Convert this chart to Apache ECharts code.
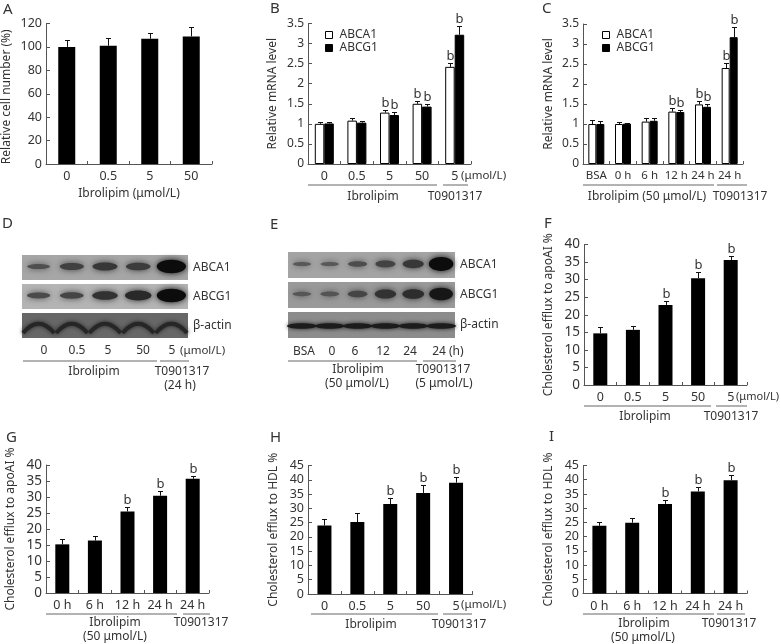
<!DOCTYPE html>
<html>
<head>
<meta charset="utf-8">
<style>
html, body { margin: 0; padding: 0; background: #fff; }
#main { width: 781px; height: 644px; }
</style>
<script src="https://cdn.jsdelivr.net/npm/echarts@6/dist/echarts.min.js"></script>
</head>
<body>
<div id="main"></div>
<script>
// categories
const catDose = ['0', '0.5', '5', '50'];
const catDoseT = ['0', '0.5', '5', '50', '5'];
const catTimeC = ['BSA', '0 h', '6 h', '12 h', '24 h', '24 h'];
const catTimeG = ['0 h', '6 h', '12 h', '24 h', '24 h'];

// A
const cellNumber = [100, 101, 107, 109];
const cellNumberTop = [105.5, 108, 111.5, 117];
// B
const bAbca1 = [1.0, 1.08, 1.28, 1.5, 2.42];
const bAbca1Top = [1.05, 1.15, 1.34, 1.56, 2.52];
const bAbca1Sig = ['', '', 'b', 'b', 'b'];
const bAbcg1 = [1.01, 1.03, 1.22, 1.43, 3.22];
const bAbcg1Top = [1.04, 1.06, 1.29, 1.49, 3.45];
const bAbcg1Sig = ['', '', 'b', 'b', 'b'];
// C
const cAbca1 = [1.0, 1.0, 1.06, 1.31, 1.49, 2.4];
const cAbca1Top = [1.09, 1.04, 1.14, 1.39, 1.58, 2.52];
const cAbca1Sig = ['', '', '', 'b', 'b', 'b'];
const cAbcg1 = [1.0, 1.01, 1.08, 1.3, 1.43, 3.17];
const cAbcg1Top = [1.07, 1.03, 1.14, 1.36, 1.5, 3.42];
const cAbcg1Sig = ['', '', '', 'b', 'b', 'b'];
// F
const fEfflux = [14.7, 15.7, 22.8, 30.4, 35.6];
const fEffluxTop = [16.6, 16.7, 24, 32.1, 36.6];
// G
const gEfflux = [15.2, 16.4, 25.5, 30.4, 35.7];
const gEffluxTop = [16.8, 17.8, 26.8, 32, 36.6];
// H
const hEfflux = [24, 25.2, 31.5, 35.4, 39];
const hEffluxTop = [26.4, 28.2, 33.6, 38, 41];
// I
const iEfflux = [23.8, 24.9, 31.5, 35.9, 39.8];
const iEffluxTop = [25, 26.5, 32.7, 37.3, 41.7];
const sigLast3 = ['', '', 'b', 'b', 'b'];

// western blots: band strength per lane, 0 to 1
const blotRows = ['ABCA1', 'ABCG1', 'β-actin'];
const dLanes = ['0', '0.5', '5', '50', '5'];
const dAbca1 = [0.3, 0.45, 0.55, 0.5, 1];
const dAbcg1 = [0.35, 0.4, 0.6, 0.7, 1];
const dActin = [0.7, 0.7, 0.7, 0.7, 0.7];
const eLanes = ['BSA', '0', '6', '12', '24', '24'];
const eAbca1 = [0.2, 0.2, 0.32, 0.42, 0.55, 1];
const eAbcg1 = [0.22, 0.25, 0.4, 0.6, 0.65, 0.9];
const eActin = [0.55, 0.55, 0.65, 0.55, 0.5, 0.55];

const FONT = '"Noto Sans", sans-serif';
const INK = '#333';

let grids = [], xAxes = [], yAxes = [], series = [], graphics = [], legends = [];

function txt(x, y, text, size, align) {
    graphics.push({
        type: 'text', x: x, y: y, silent: true,
        style: { text: text, font: (size || 12) + 'px ' + FONT, fill: INK, align: align || 'center', verticalAlign: 'middle' }
    });
}
function rule(x1, x2, y) {
    graphics.push({
        type: 'line', silent: true,
        shape: { x1: x1, y1: y, x2: x2, y2: y },
        style: { stroke: '#666', lineWidth: 1 }
    });
}

// error bar and "b" mark, drawn through the axis scale
function errorSeries(idx, vals, tops, sig, shift) {
    series.push({
        type: 'custom', xAxisIndex: idx, yAxisIndex: idx, z: 5, clip: false, silent: true,
        data: vals.map((v, i) => [i, tops[i], v, sig ? sig[i] : '']),
        encode: { x: 0, y: 1 },
        renderItem: function (params, api) {
            let p0 = api.coord([api.value(0), api.value(2)]);
            let p1 = api.coord([api.value(0), api.value(1)]);
            let x = Math.round(p0[0] + shift) + 0.5, y0 = p0[1], y1 = Math.round(p1[1]) + 0.5;
            let lineStyle = { stroke: '#111', lineWidth: 1, fill: null };
            let mark = sig ? sig[params.dataIndex] : '';
            let children = [
                { type: 'line', shape: { x1: x, y1: y0, x2: x, y2: y1 }, style: lineStyle },
                { type: 'line', shape: { x1: x - 2.5, y1: y1, x2: x + 2.5, y2: y1 }, style: lineStyle }
            ];
            if (mark) {
                children.push({
                    type: 'text', x: x, y: y1 - 1,
                    style: { text: mark, font: '13px ' + FONT, fill: INK, align: 'center', verticalAlign: 'bottom' }
                });
            }
            return { type: 'group', children: children };
        }
    });
}

function barPanel(p) {
    let idx = grids.length;
    grids.push({ left: p.left, top: p.top, width: p.width, height: p.height });
    xAxes.push({
        type: 'category', gridIndex: idx, data: p.cats,
        axisLine: { lineStyle: { color: '#555', width: 1 } },
        axisTick: { show: true, inside: true, length: 3, lineStyle: { color: '#555' } },
        axisLabel: { color: INK, fontFamily: FONT, fontSize: p.labelSize || 12.5, margin: p.labelMargin || 6, interval: 0 },
        name: p.xName || '', nameLocation: 'middle', nameGap: 24,
        nameTextStyle: { color: INK, fontFamily: FONT, fontSize: 12 }
    });
    yAxes.push({
        type: 'value', gridIndex: idx, min: 0, max: p.max, interval: p.interval,
        splitLine: { show: false },
        axisLine: { show: true, lineStyle: { color: '#555', width: 1 } },
        axisTick: { show: true, inside: true, length: 4, lineStyle: { color: '#555' } },
        axisLabel: { color: INK, fontFamily: FONT, fontSize: p.tickSize, margin: 4 },
        name: p.yName, nameLocation: 'middle', nameGap: p.nameGap,
        nameTextStyle: { color: INK, fontFamily: FONT, fontSize: 12, padding: p.namePad || 0 }
    });
    return idx;
}

function singleBars(p, vals, tops, sig) {
    let idx = barPanel(p);
    series.push({
        type: 'bar', xAxisIndex: idx, yAxisIndex: idx, data: vals, barWidth: p.barWidth,
        itemStyle: { color: '#000' }, silent: true
    });
    errorSeries(idx, vals, tops, sig, 0);
}

function pairedBars(p, a, aTop, aSig, g, gTop, gSig) {
    let idx = barPanel(p);
    series.push({
        name: 'ABCA1', type: 'bar', xAxisIndex: idx, yAxisIndex: idx, data: a, barWidth: p.barWidth, barGap: '0%',
        itemStyle: { color: '#fff', borderColor: '#000', borderWidth: 1 }, silent: true
    });
    series.push({
        name: 'ABCG1', type: 'bar', xAxisIndex: idx, yAxisIndex: idx, data: g, barWidth: p.barWidth, barGap: '0%',
        itemStyle: { color: '#000', borderColor: '#000', borderWidth: 1 }, silent: true
    });
    errorSeries(idx, a, aTop, aSig, -p.barWidth / 2);
    errorSeries(idx, g, gTop, gSig, p.barWidth / 2);
    legends.push({
        left: p.legendLeft, top: p.legendTop, orient: 'vertical', padding: 0, itemWidth: 7, itemHeight: 7, itemGap: 1,
        icon: 'rect', selectedMode: false, data: ['ABCA1', 'ABCG1'],
        itemStyle: { borderWidth: 1, borderColor: '#000' },
        textStyle: { color: INK, fontFamily: FONT, fontSize: 12, padding: [0, 0, 0, 2] }
    });
}

function blotPanel(p, rows) {
    let idx = grids.length;
    grids.push({ left: p.left, top: p.top, width: p.width, height: p.height });
    xAxes.push({ type: 'category', gridIndex: idx, data: p.lanes.map((d, i) => i), show: false });
    yAxes.push({
        type: 'category', gridIndex: idx, data: blotRows, inverse: true, position: 'right',
        axisLine: { show: false }, axisTick: { show: false },
        axisLabel: { color: INK, fontFamily: FONT, fontSize: 12, margin: 5 }
    });
    // membrane strips
    series.push({
        type: 'custom', xAxisIndex: idx, yAxisIndex: idx, silent: true, z: 2,
        data: blotRows.map((r, i) => [0, i]),
        encode: { x: 0, y: 1 },
        renderItem: function (params, api) {
            let c = api.coord([0, api.value(1)]);
            let h = api.size([0, 1])[1] * 0.87;
            return {
                type: 'rect',
                shape: { x: params.coordSys.x, y: c[1] - h / 2, width: params.coordSys.width, height: h },
                style: { fill: p.stripColors[params.dataIndex] }
            };
        }
    });
    // bands
    let bands = [];
    rows.forEach((row, r) => row.forEach((s, l) => bands.push([l, r, s])));
    series.push({
        type: 'custom', xAxisIndex: idx, yAxisIndex: idx, silent: true, z: 3,
        data: bands,
        encode: { x: 0, y: 1 },
        renderItem: function (params, api) {
            let c = api.coord([api.value(0), api.value(1)]);
            let size = api.size([1, 1]);
            let s = api.value(2);
            let g = Math.round(95 * (1 - s) + 12);
            let col = 'rgb(' + g + ',' + g + ',' + g + ')';
            if (api.value(1) === 2) {
                if (p.arch) {
                    return {
                        type: 'bezierCurve',
                        shape: {
                            x1: c[0] - size[0] * 0.47, y1: c[1] + size[1] * 0.26,
                            x2: c[0] + size[0] * 0.47, y2: c[1] + size[1] * 0.26,
                            cpx1: c[0], cpy1: c[1] - size[1] * 0.38
                        },
                        style: { stroke: '#262626', lineWidth: 4, fill: null, shadowBlur: 4, shadowColor: '#262626' }
                    };
                }
                return {
                    type: 'ellipse',
                    shape: { cx: c[0], cy: c[1] + 1, rx: size[0] * 0.54, ry: size[1] * 0.09 },
                    style: { fill: '#1c1c1c', shadowBlur: 4, shadowColor: '#1c1c1c' }
                };
            }
            return {
                type: 'ellipse',
                shape: { cx: c[0], cy: c[1] - 1, rx: size[0] * (0.3 + 0.14 * s), ry: size[1] * (0.03 + 0.2 * s) },
                style: { fill: col, shadowBlur: 6, shadowColor: col }
            };
        }
    });
}

// A
singleBars({ left: 45, top: 23.5, width: 167, height: 140.5, cats: catDose, max: 120, interval: 20, tickSize: 12.5, yName: 'Relative cell number (%)', nameGap: 33, barWidth: 17, xName: 'Ibrolipim (μmol/L)', namePad: [0, 6, 0, 0] }, cellNumber, cellNumberTop, null);
// B
pairedBars({ left: 308, top: 23.5, width: 163, height: 140.5, cats: catDoseT, max: 3.5, interval: 0.5, tickSize: 12, yName: 'Relative mRNA level', nameGap: 29, barWidth: 9.5, legendLeft: 325, legendTop: 29 }, bAbca1, bAbca1Top, bAbca1Sig, bAbcg1, bAbcg1Top, bAbcg1Sig);
// C
pairedBars({ left: 583, top: 24, width: 160, height: 140, cats: catTimeC, max: 3.5, interval: 0.5, tickSize: 12, labelSize: 11.5, yName: 'Relative mRNA level', nameGap: 28, barWidth: 8, legendLeft: 602, legendTop: 29 }, cAbca1, cAbca1Top, cAbca1Sig, cAbcg1, cAbcg1Top, cAbcg1Sig);
// F
singleBars({ left: 584, top: 244.5, width: 163, height: 140.5, cats: catDoseT, max: 40, interval: 5, tickSize: 13.5, yName: 'Cholesterol efflux to apoAI %', nameGap: 29, barWidth: 14 }, fEfflux, fEffluxTop, sigLast3);
// G
singleBars({ left: 46, top: 465, width: 163, height: 128, cats: catTimeG, max: 40, interval: 5, tickSize: 13.5, yName: 'Cholesterol efflux to apoAI %', nameGap: 29, barWidth: 14, labelMargin: 6 }, gEfflux, gEffluxTop, sigLast3);
// H
singleBars({ left: 308, top: 465.5, width: 164.5, height: 128.5, cats: catDoseT, max: 45, interval: 5, tickSize: 12.5, yName: 'Cholesterol efflux to HDL %', nameGap: 28, barWidth: 14 }, hEfflux, hEffluxTop, sigLast3);
// I
singleBars({ left: 583, top: 465.5, width: 164, height: 128, cats: catTimeG, max: 45, interval: 5, tickSize: 12.5, yName: 'Cholesterol efflux to HDL %', nameGap: 28, barWidth: 14 }, iEfflux, iEffluxTop, sigLast3);

// D, E
blotPanel({ left: 22, top: 253, width: 166, height: 87, lanes: dLanes, stripColors: ['#a6a6a6', '#b4b4b4', '#676767'], arch: true }, [dAbca1, dAbcg1, dActin]);
blotPanel({ left: 288, top: 250, width: 167, height: 90, lanes: eLanes, stripColors: ['#a4a4a4', '#9a9a9a', '#8c8c8c'], arch: false }, [eAbca1, eAbcg1, eActin]);

// panel letters
[['A', 3, 10], ['B', 270, 9], ['C', 542, 9], ['D', 2, 224], ['E', 270, 225], ['F', 544, 224], ['G', 6, 438], ['H', 270, 438], ['I', 549, 437]]
    .forEach(l => txt(l[1], l[2], l[0], 15, 'left'));

// B annotations
rule(308, 437, 185); rule(443, 468, 185);
txt(461, 176, '(μmol/L)', 11.5, 'left');
txt(373, 197, 'Ibrolipim'); txt(455, 197, 'T0901317');
// C annotations
rule(583, 714, 185); rule(717, 747, 185);
txt(647, 197, 'Ibrolipim (50 μmol/L)'); txt(740, 197, 'T0901317');
// D annotations
const dLaneX = [44, 77, 108, 143, 172];
dLanes.forEach((t, i) => txt(dLaneX[i], 351, t));
txt(180, 351, '(μmol/L)', 11.5, 'left');
rule(23, 157, 361); rule(160, 189, 361);
txt(94, 372, 'Ibrolipim'); txt(182, 372, 'T0901317'); txt(180, 386, '(24 h)');
// E annotations
const eLaneX = [304, 332, 355, 383, 410, 439];
eLanes.forEach((t, i) => txt(eLaneX[i], 352, t));
txt(449, 352, '(h)', 12, 'left');
rule(288, 417, 361); rule(423, 456, 361);
txt(358, 370, 'Ibrolipim'); txt(443, 370, 'T0901317');
txt(357, 384, '(50 μmol/L)'); txt(444, 384, '(5 μmol/L)');
// F annotations
rule(584, 711, 406); rule(716, 747, 406);
txt(736, 397, '(μmol/L)', 11, 'left');
txt(645, 417, 'Ibrolipim'); txt(731, 417, 'T0901317');
// G annotations
rule(46, 177, 614); rule(183, 210, 614);
txt(115, 623, 'Ibrolipim'); txt(115, 637, '(50 μmol/L)'); txt(201, 623, 'T0901317');
// H annotations
rule(311, 438, 614); rule(443, 472, 614);
txt(461, 605, '(μmol/L)', 11.5, 'left');
txt(371, 625, 'Ibrolipim'); txt(459, 625, 'T0901317');
// I annotations
rule(583, 714, 614); rule(717, 745, 614);
txt(644, 624, 'Ibrolipim'); txt(643, 638, '(50 μmol/L)'); txt(729, 624, 'T0901317');

let chart = echarts.init(document.getElementById('main'));
let option = {
    backgroundColor: '#fff',
    animation: false,
    grid: grids,
    xAxis: xAxes,
    yAxis: yAxes,
    legend: legends,
    series: series,
    graphic: { elements: graphics }
};
chart.setOption(option);

window.addEventListener('resize', function () {
    chart.resize();
});
</script>
</body>
</html>
